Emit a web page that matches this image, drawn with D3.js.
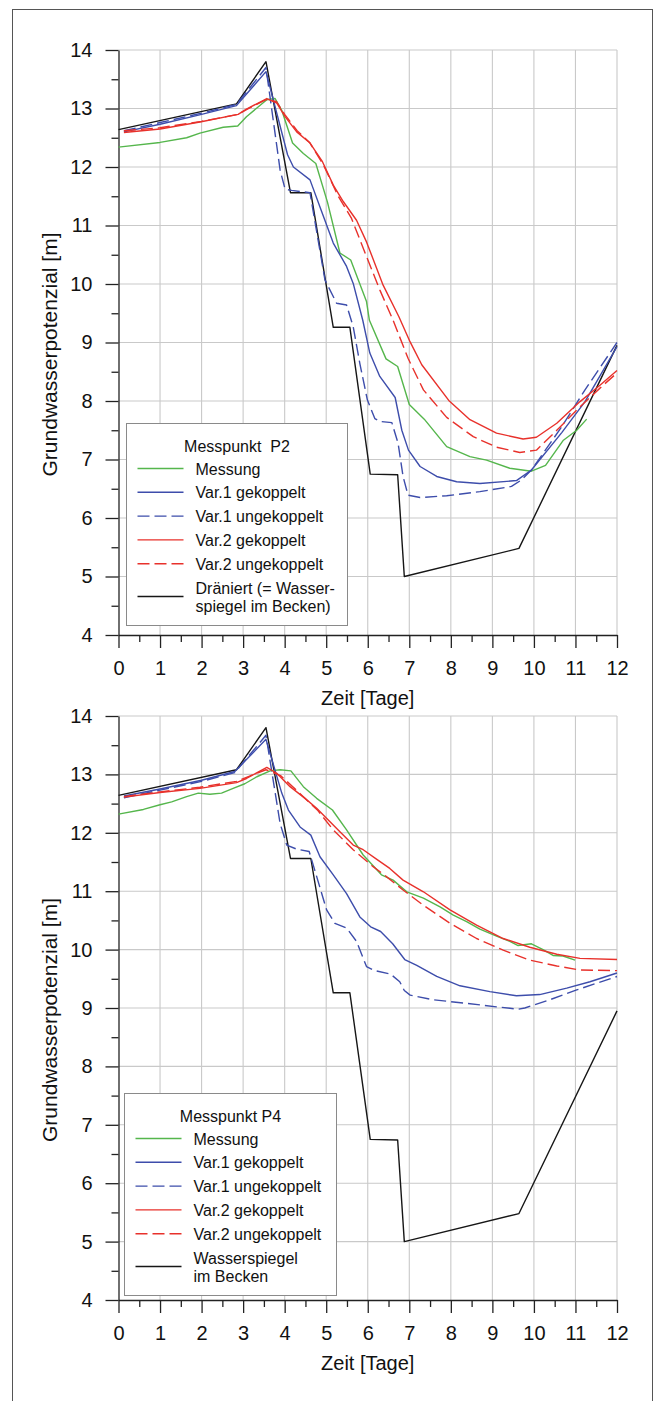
<!DOCTYPE html>
<html>
<head>
<meta charset="utf-8">
<script src="https://cdn.jsdelivr.net/npm/d3@7"></script>
<style>
	html, body { margin: 0; padding: 0; background: #fff; }
	svg { display: block; font-family: "Liberation Sans", Arial, sans-serif; }
</style>
</head>
<body>
<script>
// x-axis ticks (days) and y-axis ticks (metres)
const xTicks = [0, 1, 2, 3, 4, 5, 6, 7, 8, 9, 10, 11, 12];
const yTicks = [4, 5, 6, 7, 8, 9, 10, 11, 12, 13, 14];

// basin water level, same in both panels
const wasserspiegel = [[0, 12.64], [2.84, 13.08], [3.55, 13.8], [4.14, 11.56], [4.63, 11.56], [5.17, 9.26], [5.57, 9.26], [6.06, 6.75], [6.72, 6.74], [6.88, 5.0], [9.64, 5.48], [12, 8.95]];

// Messpunkt P2
const p2Messung = [[0, 12.34], [1.0, 12.42], [1.64, 12.5], [1.96, 12.58], [2.52, 12.68], [2.87, 12.7], [3.08, 12.86], [3.57, 13.15], [3.77, 13.17], [3.93, 12.97], [4.19, 12.41], [4.45, 12.23], [4.75, 12.06], [5.03, 11.4], [5.33, 10.53], [5.59, 10.41], [5.97, 9.7], [6.04, 9.38], [6.44, 8.72], [6.72, 8.59], [7.0, 7.94], [7.36, 7.69], [7.9, 7.22], [8.46, 7.05], [8.86, 6.99], [9.42, 6.85], [9.94, 6.8], [10.28, 6.9], [10.71, 7.33], [11.03, 7.5], [11.27, 7.69]];
const p2Var1Gek = [[0.13, 12.6], [1, 12.73], [2, 12.9], [2.84, 13.05], [3.55, 13.63], [4.07, 12.21], [4.21, 12.0], [4.61, 11.78], [4.89, 11.24], [5.17, 10.7], [5.49, 10.3], [5.65, 10.01], [5.88, 9.38], [6.05, 8.82], [6.29, 8.42], [6.66, 8.06], [6.82, 7.5], [6.98, 7.16], [7.26, 6.88], [7.66, 6.71], [8.14, 6.62], [8.7, 6.59], [9.58, 6.64], [9.94, 6.82], [10.67, 7.46], [11.23, 7.99], [12, 8.93]];
const p2Var1Ungek = [[0.13, 12.62], [1, 12.76], [2, 12.92], [2.84, 13.07], [3.55, 13.7], [3.89, 11.95], [4.01, 11.62], [4.17, 11.6], [4.61, 11.56], [4.97, 10.07], [5.25, 9.67], [5.49, 9.64], [5.65, 9.27], [5.81, 8.64], [5.99, 8.02], [6.17, 7.7], [6.29, 7.65], [6.58, 7.63], [6.73, 7.28], [6.85, 6.71], [6.97, 6.39], [7.26, 6.35], [7.9, 6.38], [8.7, 6.45], [9.46, 6.54], [9.7, 6.65], [9.94, 6.82], [10.67, 7.56], [11.23, 8.19], [12, 9.0]];
const p2Var2Gek = [[0.13, 12.59], [1, 12.65], [1.96, 12.77], [2.88, 12.9], [3.08, 12.99], [3.57, 13.17], [3.81, 13.09], [4.01, 12.86], [4.29, 12.6], [4.61, 12.41], [4.91, 12.09], [5.17, 11.69], [5.41, 11.41], [5.73, 11.09], [5.97, 10.72], [6.37, 9.98], [6.75, 9.44], [7.02, 9.01], [7.3, 8.62], [7.95, 8.01], [8.46, 7.68], [9.1, 7.45], [9.74, 7.35], [10.06, 7.38], [10.55, 7.62], [11.11, 7.99], [11.59, 8.27], [12, 8.52]];
const p2Var2Ungek = [[0.13, 12.62], [1, 12.67], [2, 12.78], [2.88, 12.9], [3.08, 12.98], [3.55, 13.15], [3.8, 13.12], [4.0, 12.9], [4.3, 12.62], [4.6, 12.42], [4.93, 12.04], [5.29, 11.5], [5.61, 11.12], [5.97, 10.47], [6.29, 9.9], [6.61, 9.38], [6.97, 8.73], [7.34, 8.19], [7.9, 7.72], [8.54, 7.39], [9.1, 7.21], [9.66, 7.12], [10.06, 7.16], [10.55, 7.5], [11.11, 7.9], [11.59, 8.22], [12, 8.48]];

// Messpunkt P4
const p4Messung = [[0, 12.32], [0.6, 12.4], [1.0, 12.48], [1.28, 12.53], [1.64, 12.62], [1.92, 12.68], [2.2, 12.66], [2.48, 12.68], [2.76, 12.76], [3.04, 12.84], [3.33, 12.96], [3.65, 13.06], [3.89, 13.08], [4.15, 13.06], [4.45, 12.79], [4.77, 12.59], [5.15, 12.39], [5.49, 12.05], [5.89, 11.62], [6.33, 11.28], [6.61, 11.19], [6.94, 10.99], [7.34, 10.88], [7.74, 10.73], [8.06, 10.59], [8.38, 10.48], [8.7, 10.35], [9.1, 10.23], [9.42, 10.14], [9.62, 10.07], [9.94, 10.1], [10.22, 10.0], [10.46, 9.9], [10.7, 9.89], [10.99, 9.82]];
const p4Var1Gek = [[0.13, 12.63], [1, 12.75], [2, 12.9], [2.8, 13.05], [3.55, 13.6], [3.93, 12.68], [4.09, 12.39], [4.37, 12.1], [4.63, 11.96], [4.85, 11.59], [5.17, 11.28], [5.49, 10.96], [5.81, 10.56], [6.07, 10.39], [6.31, 10.31], [6.6, 10.1], [6.89, 9.83], [7.18, 9.73], [7.66, 9.54], [8.22, 9.38], [8.94, 9.28], [9.58, 9.21], [10.14, 9.23], [10.79, 9.34], [11.35, 9.45], [12, 9.6]];
const p4Var1Ungek = [[0.13, 12.6], [1, 12.73], [2, 12.88], [2.8, 13.03], [3.55, 13.67], [3.89, 12.16], [4.05, 11.79], [4.29, 11.72], [4.59, 11.68], [5.01, 10.68], [5.21, 10.45], [5.49, 10.37], [5.73, 10.14], [5.97, 9.71], [6.17, 9.64], [6.55, 9.58], [6.77, 9.45], [6.88, 9.3], [7.02, 9.22], [7.58, 9.14], [8.38, 9.08], [9.1, 9.02], [9.62, 8.98], [9.78, 9.0], [10.38, 9.14], [11.03, 9.31], [12, 9.54]];
const p4Var2Gek = [[0.13, 12.61], [1.0, 12.69], [1.96, 12.76], [2.84, 12.86], [3.08, 12.93], [3.57, 13.12], [3.81, 13.02], [4.13, 12.79], [4.49, 12.59], [4.77, 12.42], [5.05, 12.22], [5.33, 12.02], [5.65, 11.79], [5.89, 11.71], [6.21, 11.55], [6.53, 11.39], [6.85, 11.19], [7.34, 10.99], [7.98, 10.68], [8.62, 10.42], [9.26, 10.19], [9.9, 10.04], [10.55, 9.92], [11.11, 9.85], [12, 9.83]];
const p4Var2Ungek = [[0.13, 12.62], [1.0, 12.7], [1.96, 12.78], [2.84, 12.88], [3.08, 12.95], [3.55, 13.08], [3.9, 12.98], [4.3, 12.72], [4.8, 12.38], [5.17, 12.05], [5.65, 11.71], [6.13, 11.42], [6.45, 11.25], [6.85, 11.02], [7.34, 10.76], [7.98, 10.45], [8.62, 10.19], [9.26, 9.99], [9.9, 9.82], [10.55, 9.72], [11.11, 9.65], [12, 9.64]];

const seriesLabels = ["Messung", "Var.1 gekoppelt", "Var.1 ungekoppelt", "Var.2 gekoppelt", "Var.2 ungekoppelt"];

document.addEventListener('DOMContentLoaded', () => {
	const width = 655;
	const height = 1401;

	const svg = d3.select("body").append("svg")
		.attr("width", width)
		.attr("height", height);

	// outer frame of the figure
	svg.append("rect")
		.attr("x", 12.5).attr("y", 9.5)
		.attr("width", 640).attr("height", 1400)
		.attr("fill", "none")
		.attr("stroke", "#555")
		.attr("stroke-width", 1);

	const styles = [
		{ color: "#55b64c", dash: null },
		{ color: "#3d4dab", dash: null },
		{ color: "#3d4dab", dash: "12,5" },
		{ color: "#e8312b", dash: null },
		{ color: "#e8312b", dash: "12,5" },
		{ color: "#161616", dash: null }
	];

	function drawChart(cfg) {
		const g = svg.append("g");
		const left = 118.5, right = 617;

		const x = d3.scaleLinear().domain([0, 12]).range([left, right]);
		const y = d3.scaleLinear().domain([4, 14]).range([cfg.bottom, cfg.top]);

		// grid
		g.append("g").selectAll("line")
			.data(xTicks.slice(1))
			.enter().append("line")
			.attr("x1", d => x(d)).attr("x2", d => x(d))
			.attr("y1", y(4)).attr("y2", y(14))
			.attr("stroke", "#c9c9c9").attr("stroke-width", 1.1);
		g.append("g").selectAll("line")
			.data(yTicks.slice(1))
			.enter().append("line")
			.attr("x1", x(0)).attr("x2", x(12))
			.attr("y1", d => y(d)).attr("y2", d => y(d))
			.attr("stroke", "#c9c9c9").attr("stroke-width", 1.1);

		// minor ticks
		const halfX = d3.range(0.5, 12, 1);
		const halfY = d3.range(4.5, 14, 1);
		g.append("g")
			.attr("transform", `translate(0,${cfg.bottom})`)
			.call(d3.axisBottom(x).tickValues(halfX).tickSize(7).tickFormat("").tickSizeOuter(0))
			.call(a => a.select(".domain").remove());
		g.append("g")
			.attr("transform", `translate(${left},0)`)
			.call(d3.axisLeft(y).tickValues(halfY).tickSize(7).tickFormat("").tickSizeOuter(0))
			.call(a => a.select(".domain").remove());

		// major axes
		const xAxis = g.append("g")
			.attr("transform", `translate(0,${cfg.bottom})`)
			.call(d3.axisBottom(x).tickValues(xTicks).tickSize(13).tickPadding(13).tickSizeOuter(0));
		const yAxis = g.append("g")
			.attr("transform", `translate(${left},0)`)
			.call(d3.axisLeft(y).tickValues(yTicks).tickSize(13).tickPadding(13).tickSizeOuter(0));

		[xAxis, yAxis].forEach(a => {
			a.selectAll("text")
				.attr("font-family", "Liberation Sans, Arial, sans-serif")
				.attr("font-size", 20)
				.attr("fill", "#111");
			a.selectAll("line, path").attr("stroke", "#222").attr("stroke-width", 1.3);
		});
		g.selectAll(".tick line").attr("stroke", "#222").attr("stroke-width", 1.3);

		g.append("text")
			.attr("x", (left + right) / 2)
			.attr("y", cfg.bottom + 70)
			.attr("text-anchor", "middle")
			.attr("font-size", 20)
			.attr("fill", "#111")
			.text("Zeit [Tage]");

		g.append("text")
			.attr("transform", `translate(57,${(cfg.top + cfg.bottom) / 2 + 12}) rotate(-90)`)
			.attr("text-anchor", "middle")
			.attr("font-size", 21)
			.attr("fill", "#111")
			.text("Grundwasserpotenzial [m]");

		// data lines
		const line = d3.line().x(d => x(d[0])).y(d => y(d[1]));
		const series = cfg.series.concat([wasserspiegel]);
		const order = [5, 0, 2, 1, 4, 3];
		order.forEach(i => {
			g.append("path")
				.datum(series[i])
				.attr("d", line)
				.attr("fill", "none")
				.attr("stroke", styles[i].color)
				.attr("stroke-width", 1.4)
				.attr("stroke-dasharray", styles[i].dash)
				.attr("stroke-linejoin", "round");
		});

		// legend
		const lg = g.append("g");
		const lx = cfg.legend.x, ly = cfg.legend.y;
		lg.append("rect")
			.attr("x", lx).attr("y", ly)
			.attr("width", cfg.legend.w).attr("height", 202)
			.attr("fill", "#fff")
			.attr("stroke", "#8a8a8a")
			.attr("stroke-width", 1);
		lg.append("text")
			.attr("x", lx + cfg.legend.w / 2)
			.attr("y", ly + 28)
			.attr("text-anchor", "middle")
			.attr("font-size", 16)
			.attr("fill", "#111")
			.style("white-space", "pre")
			.text(cfg.title);

		const labels = seriesLabels.concat([cfg.lastLabel]);
		labels.forEach((lab, i) => {
			const ry = i < 5 ? ly + 45 + i * 23.8 : ly + 173;
			lg.append("line")
				.attr("x1", lx + 11).attr("x2", lx + 57)
				.attr("y1", ry).attr("y2", ry)
				.attr("stroke", styles[i].color)
				.attr("stroke-width", 1.4)
				.attr("stroke-dasharray", styles[i].dash);
			const t = lg.append("text")
				.attr("x", lx + 69)
				.attr("font-size", 16)
				.attr("fill", "#111");
			if (Array.isArray(lab)) {
				t.attr("y", ry - 3);
				lab.forEach((part, k) => {
					t.append("tspan")
						.attr("x", lx + 69)
						.attr("dy", k === 0 ? 0 : 18)
						.text(part);
				});
			} else {
				t.attr("y", ry + 6).text(lab);
			}
		});
	}

	drawChart({
		top: 50, bottom: 635,
		series: [p2Messung, p2Var1Gek, p2Var1Ungek, p2Var2Gek, p2Var2Ungek],
		title: "Messpunkt  P2",
		lastLabel: ["Dräniert (= Wasser-", "spiegel im Becken)"],
		legend: { x: 126.5, y: 423.5, w: 221 }
	});

	drawChart({
		top: 716, bottom: 1300,
		series: [p4Messung, p4Var1Gek, p4Var1Ungek, p4Var2Gek, p4Var2Ungek],
		title: "Messpunkt P4",
		lastLabel: ["Wasserspiegel", "im Becken"],
		legend: { x: 124.5, y: 1093.5, w: 212 }
	});
});
</script>
</body>
</html>
